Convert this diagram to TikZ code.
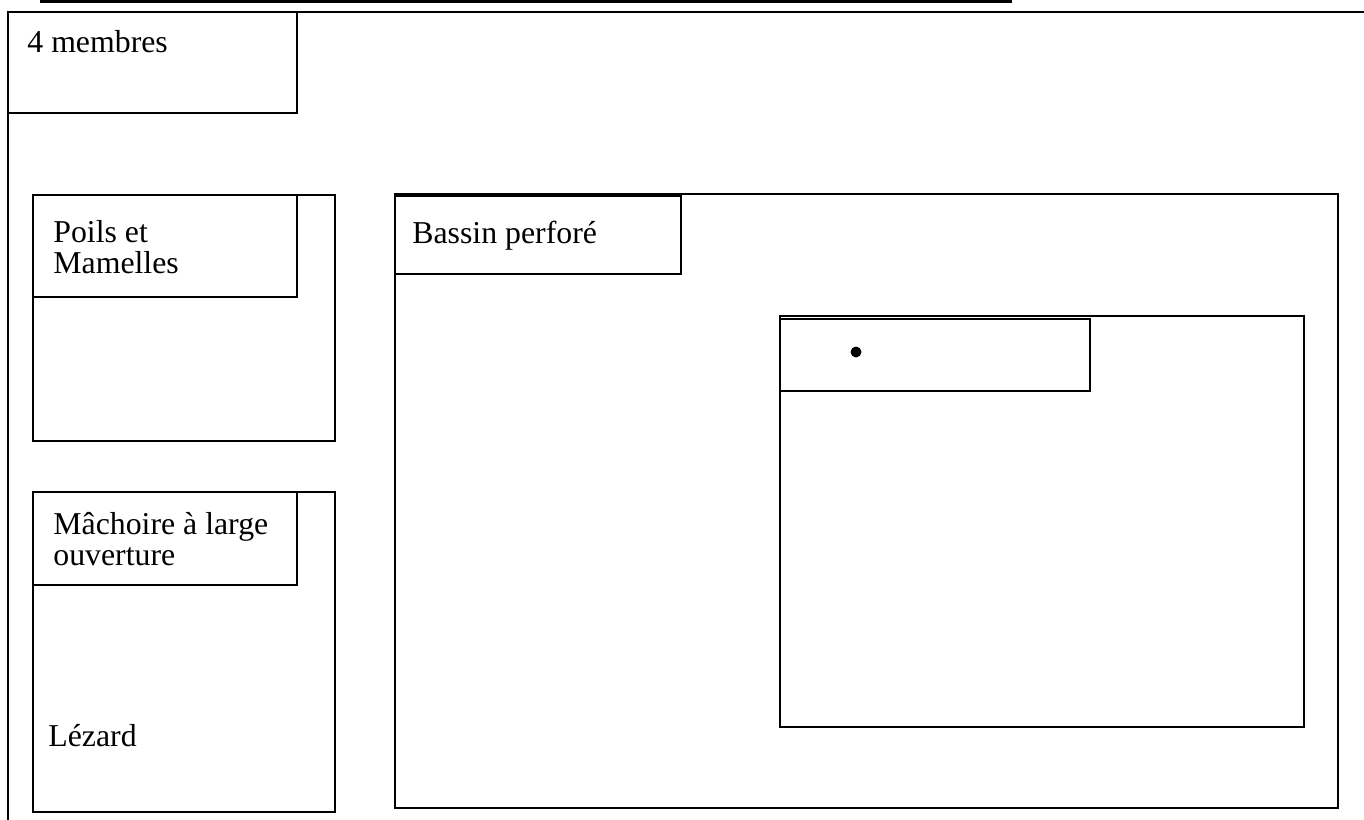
\documentclass[tikz,border=0pt]{standalone}
\usepackage{fontspec}
\setmainfont{Liberation Serif}
\begin{document}
\begin{tikzpicture}[x=0.5pt,y=-0.5pt,
  frame/.style={draw=black,line width=1.1pt},
  lbl/.style={anchor=base west,inner sep=0pt,font=\fontsize{15.9pt}{15.3pt}\selectfont,align=left}]
\useasboundingbox (0,0) rectangle (1364,819);
% top rule
\draw[line width=1.6pt] (40,1) -- (1012,1);
% outer frame
\draw[frame] (1370,12) -- (8,12) -- (8,830);
% 4 membres
\draw[frame] (8,12) rectangle (297,113);
\node[lbl] (membres) at (27,52) {4 membres};
% Poils et Mamelles
\draw[frame] (33,195) rectangle (335,441);
\draw[frame] (33,195) rectangle (297,297);
\node[lbl] (poils) at (53,273) {Poils et\\Mamelles};
% Machoire
\draw[frame] (33,492) rectangle (335,812);
\draw[frame] (33,492) rectangle (297,585);
\node[lbl] (machoire) at (53,565) {Mâchoire à large\\ouverture};
\node[lbl] (lezard) at (48,746) {Lézard};
% Bassin
\draw[frame] (395,194) rectangle (1338,808);
\draw[frame] (395,196) rectangle (681,274);
\node[lbl] (bassin) at (412,243) {Bassin perforé};
% inner box
\draw[frame] (780,316) rectangle (1304,727);
\draw[frame] (780,319) rectangle (1090,391);
\fill (856,352) circle (5.5);
\end{tikzpicture}
\end{document}
